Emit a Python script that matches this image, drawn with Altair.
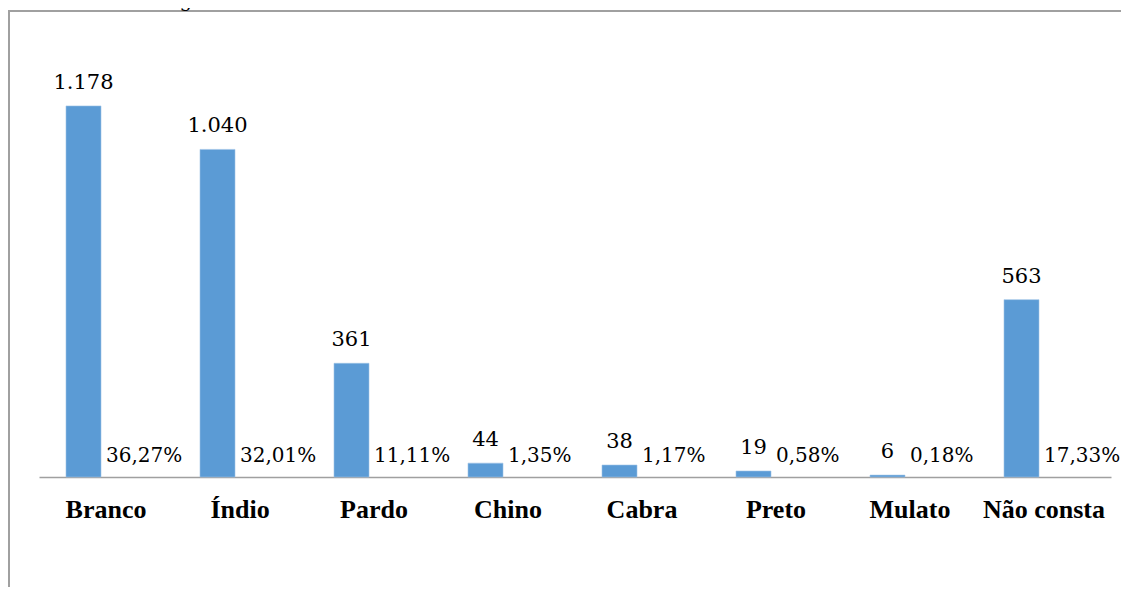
import altair as alt
import pandas as pd

categories = ["Branco", "Índio", "Pardo", "Chino", "Cabra", "Preto", "Mulato", "Não consta"]
counts = [1178, 1040, 361, 44, 38, 19, 6, 563]
percents = [36.27, 32.01, 11.11, 1.35, 1.17, 0.58, 0.18, 17.33]
title_bold = "Gráfico 1:"
title_rest = "Designativos de cor nos assentos de batismo entre 1854-1880"

df = pd.DataFrame({
    "cat": categories,
    "count": counts,
    "pct": percents,
})
df["count_lbl"] = [f"{v:,}".replace(",", ".") for v in counts]
df["pct_lbl"] = [f"{v:.2f}".replace(".", ",") + "%" for v in percents]

FONT = "Liberation Serif"
VFONT = "DejaVu Serif"
BLUE = "#5b9bd5"

x = alt.X("cat:N", sort=categories,
          scale=alt.Scale(paddingInner=0, paddingOuter=0),
          axis=alt.Axis(title=None, labelAngle=0, ticks=False, tickSize=0,
                        labelFont=FONT, labelFontSize=26, labelFontWeight="bold",
                        labelColor="#000000", labelBaseline="alphabetic",
                        labelPadding=40, domainColor="#a0a0a0", domainWidth=1.5,
                        grid=False))
y_scale = alt.Scale(domain=[0, 1400], nice=False, zero=True)

base = alt.Chart(df)

bars = base.mark_bar(width=35, xOffset=-22.5, color=BLUE,
                     stroke="#9dc3e6", strokeWidth=0.6).encode(
    x=x,
    y=alt.Y("count:Q", scale=y_scale, axis=None),
)

count_text = base.mark_text(font=VFONT, fontSize=21, color="#000000",
                            baseline="alphabetic", dy=-17, dx=-22.5).encode(
    x=alt.X("cat:N", sort=categories),
    y=alt.Y("count:Q", scale=y_scale),
    text="count_lbl:N",
)

pct_text = base.mark_text(font=VFONT, fontSize=20, color="#000000",
                          baseline="alphabetic", align="left", dy=-15, dx=0).encode(
    x=alt.X("cat:N", sort=categories),
    y=alt.datum(0),
    text="pct_lbl:N",
)

top_line = alt.Chart(pd.DataFrame({"k": [0]})).mark_rule(
    color="#a0a0a0", strokeWidth=2).encode(
    x=alt.value(-31), x2=alt.value(1100), y=alt.value(-25))
left_line = alt.Chart(pd.DataFrame({"k": [0]})).mark_rule(
    color="#a0a0a0", strokeWidth=2).encode(
    x=alt.value(-30), y=alt.value(-26), y2=alt.value(600))

title_df = pd.DataFrame({"t1": [title_bold], "t2": [title_rest]})
title1 = alt.Chart(title_df).mark_text(font=FONT, fontSize=25, fontWeight="bold",
                                       align="left", baseline="alphabetic",
                                       color="#000000").encode(
    x=alt.value(-39), y=alt.value(-29), text="t1:N")
title2 = alt.Chart(title_df).mark_text(font=VFONT, fontSize=20,
                                       align="left", baseline="alphabetic",
                                       color="#000000").encode(
    x=alt.value(96), y=alt.value(-29), text="t2:N")

chart = alt.layer(top_line, left_line, bars, count_text, pct_text, title1, title2).properties(
    width=1072, height=441,
    padding={"left": 31, "top": 28, "right": 10, "bottom": 110},
    autosize=alt.AutoSizeParams(type="none"),
    background="#ffffff",
).configure_view(
    strokeWidth=0, stroke=None
).configure_axis(
    labelFont=FONT
)

chart.save("out.html", embed_options={"renderer": "svg", "actions": False})
